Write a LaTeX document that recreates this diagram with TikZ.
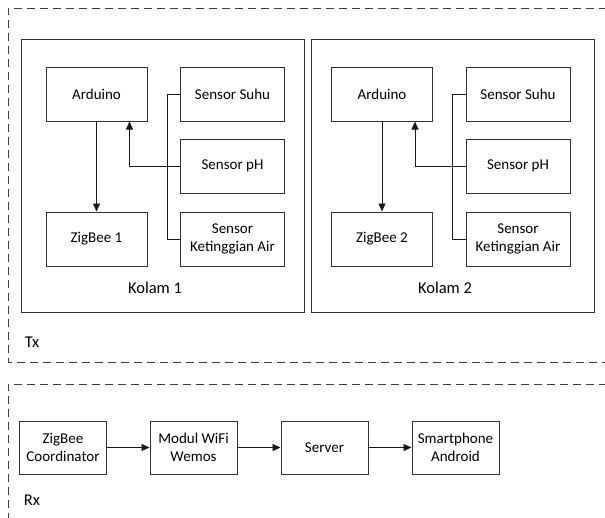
\documentclass[tikz,border=0pt]{standalone}
\usepackage{fontspec}
\setmainfont{Carlito}
\usepackage{xcolor}
\usetikzlibrary{arrows.meta}

\begin{document}
\begin{tikzpicture}[
        x=1pt, y=-1pt,
        blok/.style = {draw=black!80, line width=1pt, align=center, inner sep=1pt,
                       minimum width=101pt, minimum height=54pt,
                       font=\fontsize{15}{17.5}\selectfont},
        sensor/.style = {blok, minimum width=104pt},
        rxblok/.style = {blok, minimum width=87pt, minimum height=53pt},
        kolam/.style = {draw=black!80, line width=1pt},
        zona/.style = {draw=black!75, line width=1pt, dash pattern=on 8pt off 5pt},
        teks/.style = {font=\fontsize{16.5}{19}\selectfont},
        arr/.style = {-{Triangle[length=8pt,width=7pt]}, black!90, line width=0.9pt},
        line/.style = {black!90, line width=0.9pt}
    ]
        \useasboundingbox (0,0) rectangle (605,517);
        \clip (0,0) rectangle (605,517);
        % daerah Tx dan Rx
        \draw[zona] (620,8) -| (8,362) -- (620,362);
        \draw[zona] (620,384) -| (8,530);
        \node[teks] (tx) at (32,342) {Tx};
        \node[teks] (rx) at (32,500) {Rx};
        % dua kolam
        \foreach \i/\dx/\kx in {1/0/0, 2/285.5/290} {
            \draw[kolam] (21+\kx,39) rectangle (304+\kx,312);
            \node[teks] (kol\i) at (155+\kx,288) {Kolam \i};
            \node[blok] (ard\i) at (96.5+\dx,94) {Arduino};
            \node[blok] (zb\i) at (96.5+\dx,239) {ZigBee \i};
            \node[sensor] (suhu\i) at (232.5+\dx,94) {Sensor Suhu};
            \node[sensor] (ph\i) at (232.5+\dx,166) {Sensor pH};
            \node[sensor] (air\i) at (232.5+\dx,239) {Sensor\\Ketinggian Air};
            \draw[arr] (ard\i) -- (zb\i);
            \draw[line] (suhu\i.west) -- ++(-13,0) |- (air\i.west);
            \draw[arr] (ph\i.west) -| ([xshift=-18pt]ard\i.south east);
        }
        % penerima
        \node[rxblok] (zc) at (63,447.5) {ZigBee\\Coordinator};
        \node[rxblok] (wifi) at (193.5,447.5) {Modul WiFi\\Wemos};
        \node[rxblok] (srv) at (324.5,447.5) {Server};
        \node[rxblok] (hp) at (455.5,447.5) {Smartphone\\Android};
        \draw[arr] (zc) -- (wifi);
        \draw[arr] (wifi) -- (srv);
        \draw[arr] (srv) -- (hp);
    \end{tikzpicture}
\end{document}
